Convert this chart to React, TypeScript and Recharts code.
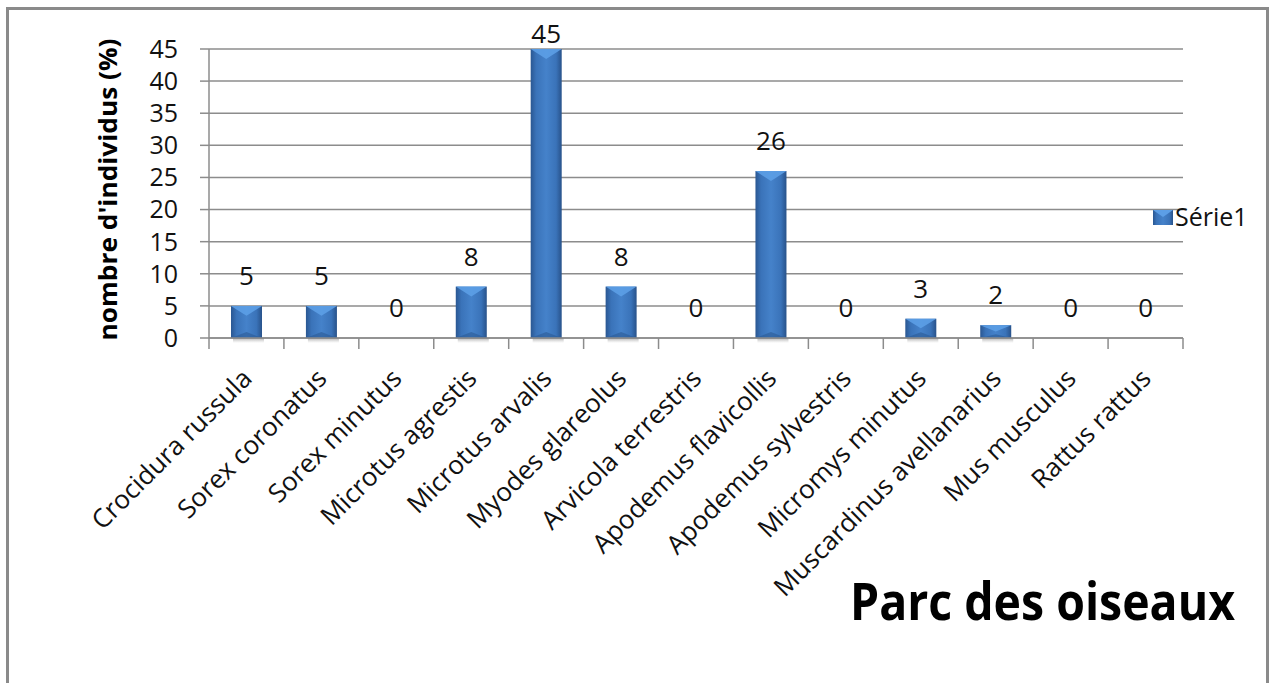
import React from "react";
import {
  BarChart,
  Bar,
  XAxis,
  YAxis,
  CartesianGrid,
  LabelList,
  Customized,
} from "recharts";

// species captured at the site
const species = [
  "Crocidura russula",
  "Sorex coronatus",
  "Sorex minutus",
  "Microtus agrestis",
  "Microtus arvalis",
  "Myodes glareolus",
  "Arvicola terrestris",
  "Apodemus flavicollis",
  "Apodemus sylvestris",
  "Micromys minutus",
  "Muscardinus avellanarius",
  "Mus musculus",
  "Rattus rattus",
];

// share of individuals (%)
const percentages = [5, 5, 0, 8, 45, 8, 0, 26, 0, 3, 2, 0, 0];

const yTicks = [0, 5, 10, 15, 20, 25, 30, 35, 40, 45];

const seriesName = "Série1";
const chartTitle = "Parc des oiseaux";
const yAxisTitle = "nombre d'individus (%)";

const data = species.map((name, i) => ({ name, value: percentages[i] }));

const FONT = "'Open Sans', 'DejaVu Sans', sans-serif";
const GRID = "#8c8c8c";

// excel-like bevelled bar
const BevelBar = (props: any) => {
  const { x, y, width, height } = props;
  if (!height || height <= 0) return null;
  const bevel = Math.min(width * 0.32, height / 2);
  return (
    <g>
      <rect x={x + 2} y={y + height} width={width} height={5} fill="url(#barShadow)" />
      <rect x={x} y={y} width={width} height={height} fill="url(#barBody)" />
      <polygon
        points={`${x},${y} ${x + width},${y} ${x + width / 2},${y + bevel}`}
        fill="#5c9ee6"
        opacity={0.9}
      />
      <polygon
        points={`${x},${y + height} ${x + width},${y + height} ${x + width / 2},${y + height - bevel * 0.6}`}
        fill="#2b5a94"
        opacity={0.6}
      />
    </g>
  );
};

const GradientDefs = () => (
  <defs>
    <linearGradient id="barBody" x1="0" y1="0" x2="1" y2="0">
      <stop offset="0%" stopColor="#2a5792" />
      <stop offset="18%" stopColor="#3a73b9" />
      <stop offset="50%" stopColor="#4582ca" />
      <stop offset="82%" stopColor="#3a73b9" />
      <stop offset="100%" stopColor="#28528a" />
    </linearGradient>
    <linearGradient id="barShadow" x1="0" y1="0" x2="0" y2="1">
      <stop offset="0%" stopColor="#777" stopOpacity={0.6} />
      <stop offset="100%" stopColor="#aaa" stopOpacity={0} />
    </linearGradient>
  </defs>
);

const SpeciesTick = (props: any) => {
  const { x, y, payload, index } = props;
  const half = payload.offset || 37.46;
  const last = index === species.length - 1;
  return (
    <g>
      <line x1={x - half} x2={x - half} y1={y} y2={y + 11} stroke={GRID} strokeWidth={1.5} />
      {last && (
        <line x1={x + half} x2={x + half} y1={y} y2={y + 11} stroke={GRID} strokeWidth={1.5} />
      )}
      <text
        transform={`translate(${x + 7},${y + 42}) rotate(-45)`}
        textAnchor="end"
        fontFamily={FONT}
        fontSize={26}
        fill="#111"
      >
        {payload.value}
      </text>
    </g>
  );
};

const ValueLabel = (props: any) => {
  const { x, y, width, value } = props;
  const baseline = Math.max(y - 21, 43);
  return (
    <text
      x={x + width / 2}
      y={baseline}
      textAnchor="middle"
      fontFamily={FONT}
      fontSize={26}
      fill="#111"
    >
      {value}
    </text>
  );
};

const YTitle = (props: any) => {
  const { viewBox } = props;
  const cy = viewBox.y + viewBox.height / 2 - 4;
  return (
    <text
      transform={`translate(107,${cy}) rotate(-90)`}
      textAnchor="middle"
      dominantBaseline="central"
      fontFamily={FONT}
      fontWeight="bold"
      fontSize={25}
      textLength={302}
      lengthAdjust="spacingAndGlyphs"
      fill="#000"
    >
      {yAxisTitle}
    </text>
  );
};

// legend drawn inside the svg so it does not take room from the plot
const LegendMark = () => (
  <g>
    <rect x={1153} y={210} width={20} height={15} fill="url(#barBody)" />
    <polygon points="1153,210 1173,210 1163,217" fill="#5c9ee6" />
    <text x={1175} y={226} fontFamily={FONT} fontSize={25} fill="#111">
      {seriesName}
    </text>
  </g>
);

const Title = () => (
  <text
    x={1235}
    y={620}
    textAnchor="end"
    fontFamily={FONT}
    fontWeight="bold"
    fontSize={52}
    textLength={385}
    lengthAdjust="spacingAndGlyphs"
    fill="#000"
  >
    {chartTitle}
  </text>
);

export default function App() {
  return (
    <div
      style={{
        position: "absolute",
        left: 0,
        top: 0,
        width: 1269,
        height: 683,
        overflow: "hidden",
        background: "#fff",
      }}
    >
      <div
        style={{
          position: "absolute",
          left: 6,
          top: 7,
          width: 1263,
          height: 720,
          boxSizing: "border-box",
          border: "3px solid #8a8a8a",
        }}
      />
      <BarChart
        width={1269}
        height={683}
        data={data}
        margin={{ top: 49, right: 86, bottom: 0, left: 0 }}
        style={{ position: "absolute", left: 0, top: 0 }}
      >
        <Customized component={GradientDefs} />
        <CartesianGrid vertical={false} stroke={GRID} strokeWidth={1.5} />
        <XAxis
          dataKey="name"
          height={345}
          interval={0}
          tickSize={0}
          tickMargin={0}
          axisLine={{ stroke: GRID, strokeWidth: 1.5 }}
          tickLine={false}
          tick={<SpeciesTick />}
        />
        <YAxis
          width={209}
          domain={[0, 45]}
          ticks={yTicks}
          interval={0}
          tickSize={9}
          tickMargin={22}
          axisLine={{ stroke: GRID, strokeWidth: 1.5 }}
          tickLine={{ stroke: GRID, strokeWidth: 1.5 }}
          tick={{ fontSize: 25, fill: "#111", fontFamily: FONT }}
          label={<YTitle />}
        />
        <Bar
          dataKey="value"
          name={seriesName}
          barSize={31}
          shape={<BevelBar />}
          isAnimationActive={false}
        >
          <LabelList dataKey="value" content={<ValueLabel />} />
        </Bar>
        <Customized component={LegendMark} />
        <Customized component={Title} />
      </BarChart>
    </div>
  );
}
